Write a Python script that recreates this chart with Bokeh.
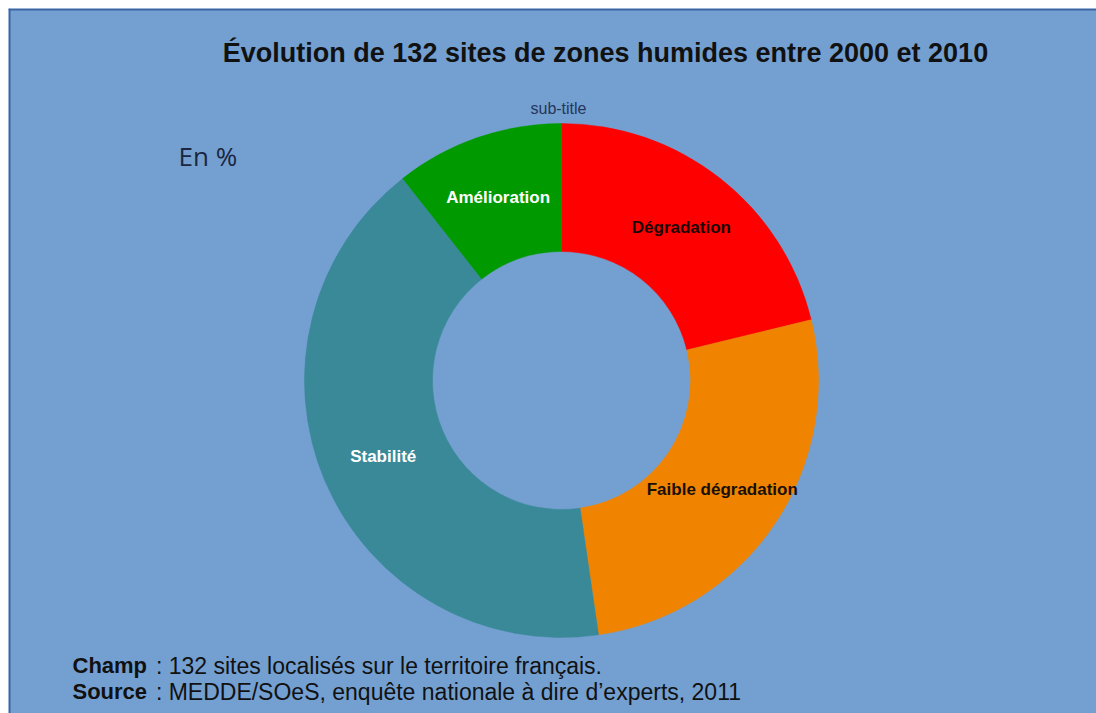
import numpy as np
from bokeh.plotting import figure
from bokeh.models import ColumnDataSource, Range1d, Span, Label
from bokeh.core.properties import value
from bokeh.embed import file_html
from bokeh.resources import INLINE

# ---- data ----
categories = ["Dégradation", "Faible dégradation", "Stabilité", "Amélioration"]
percent = [21.2, 26.5, 41.7, 10.6]
colors = ["#ff0000", "#f08400", "#3a8998", "#009a00"]
label_colors = ["#1a0808", "#1a0f05", "#ffffff", "#ffffff"]

title = "Évolution de 132 sites de zones humides entre 2000 et 2010"
subtitle = "sub-title"
unit = "En %"
note_bold = ["Champ", "Source"]
note_text = ["\u00a0: 132 sites localisés sur le territoire français.",
             "\u00a0: MEDDE/SOeS, enquête nationale à dire d’experts, 2011"]

W, H = 1088, 705
BG = "#73a0d1"

p = figure(width=W + 8, height=H + 8, x_range=Range1d(0, W), y_range=Range1d(0, H),
           output_backend="svg", toolbar_location=None,
           min_border_left=8, min_border_top=8, min_border_right=0, min_border_bottom=0,
           background_fill_color=BG, border_fill_color="#ffffff")
p.axis.visible = False
p.grid.visible = False
p.outline_line_color = None

# donut
cx, cy = 553, 333
r_in, r_out = 129, 257
vals = np.array(percent, dtype=float)
frac = vals / vals.sum()
cum = np.concatenate([[0], np.cumsum(frac)])
start = np.pi / 2 - 2 * np.pi * cum[1:]
end = np.pi / 2 - 2 * np.pi * cum[:-1]
mid = (start + end) / 2
r_lab = 194
src = ColumnDataSource(dict(
    cat=categories, start=start, end=end, color=colors, lcolor=label_colors,
    lx=cx + r_lab * np.cos(mid), ly=cy + r_lab * np.sin(mid),
))
p.annular_wedge(x=cx, y=cy, inner_radius=r_in, outer_radius=r_out,
                start_angle="start", end_angle="end", fill_color="color",
                line_color="color", line_width=0.5, source=src)
p.text(x="lx", y="ly", text="cat", text_color="lcolor", source=src,
       text_font=value("Liberation Sans"), text_font_style="bold",
       text_font_size="17px", text_align="center", text_baseline="middle")

# texts
p.add_layout(Label(x=597, y=H - 44, text=title, text_font="Liberation Sans",
                   text_font_style="bold", text_font_size="27px",
                   text_color="#111111", text_align="center", text_baseline="middle"))
p.add_layout(Label(x=550, y=H - 100, text=subtitle, text_font="Liberation Sans",
                   text_font_size="16px", text_color="#26365a",
                   text_align="center", text_baseline="middle"))
p.add_layout(Label(x=170, y=H - 147, text=unit, text_font="Open Sans",
                   text_font_size="26px", text_color="#1b2640",
                   text_align="left", text_baseline="middle"))

bold_w = [77, 77]
for i, (b, t) in enumerate(zip(note_bold, note_text)):
    yy = H - (657 + 26 * i)
    p.add_layout(Label(x=64, y=yy, text=b, text_font="Liberation Sans",
                       text_font_style="bold", text_font_size="22px",
                       text_color="#111111", text_baseline="middle"))
    p.add_layout(Label(x=64 + bold_w[i], y=yy, text=t, text_font="Liberation Sans",
                       text_font_size="23px", text_color="#111111",
                       text_baseline="middle"))

# frame lines top / left
p.add_layout(Span(location=1, dimension="height", line_color="#3d63a0", line_width=2))
p.add_layout(Span(location=H - 1, dimension="width", line_color="#3d63a0", line_width=2))

open("out.html", "w").write(file_html(p, INLINE))
